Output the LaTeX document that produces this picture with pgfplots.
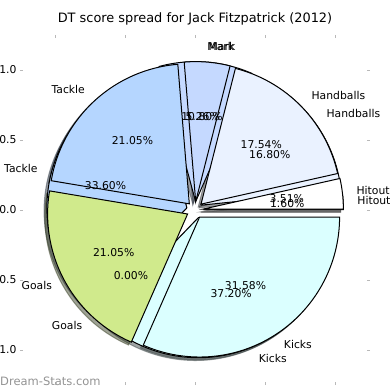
\documentclass[border=0pt]{standalone}
\usepackage{fontspec}
\setmainfont{DejaVu Sans}
\usepackage{pgfplots}
\pgfplotsset{compat=1.18}

\definecolor{cMark}{RGB}{197,217,255}
\definecolor{cHand}{RGB}{234,242,255}
\definecolor{cHit}{RGB}{255,255,255}
\definecolor{cKick}{RGB}{219,255,255}
\definecolor{cGoal}{RGB}{208,234,140}
\definecolor{cTack}{RGB}{181,214,255}

\tikzset{
  lab/.style={font=\fontsize{10.8}{13}\selectfont, inner sep=0pt, text height=0.76em, text depth=0.24em},
  wedgestyle/.style={draw=black, line width=1pt, line join=miter},
  shadowstyle/.style={draw=#1, line width=1pt, opacity=0.5},
}

\newcommand\explode{0.06}
\gdef\cum{0}
\newcommand\cumreset{\gdef\cum{0}}
\newcommand\sliceangles[1]{%
  \pgfmathsetmacro\sa{3.6*\cum}%
  \pgfmathsetmacro\sb{3.6*(\cum+#1)}%
  \pgfmathsetmacro\sm{(\sa+\sb)/2}%
  \pgfmathsetmacro\cx{\explode*cos(\sm)}%
  \pgfmathsetmacro\cy{\explode*sin(\sm)}%
  \pgfmathsetmacro\newcum{\cum+#1}%
  \xdef\cum{\newcum}}
% #1 value (percent), #2 fill colour, #3 style, #4 offset (shadow)
\newcommand\slice[4]{%
  \sliceangles{#1}%
  \pgfmathsetmacro\ox{\cx+#4}\pgfmathsetmacro\oy{\cy+#4}%
  \ifdim #1pt>0pt
    \edef\temp{\noexpand\addplot[#3, fill=#2, domain=\sa:\sb, samples=72]
      ({\ox+cos(x)},{\oy+sin(x)}) -- (axis cs:\ox,\oy) -- cycle;}%
  \else \let\temp\relax \fi
  \temp}
% #1 value, #2 name, #3 percent text
\newcommand\pielabel[3]{%
  \sliceangles{#1}%
  \pgfmathsetmacro\lx{(\explode+1.1)*cos(\sm)}%
  \pgfmathsetmacro\ly{(\explode+1.1)*sin(\sm)}%
  \pgfmathsetmacro\qx{(\explode+0.6)*cos(\sm)}%
  \pgfmathsetmacro\qy{(\explode+0.6)*sin(\sm)}%
  \ifdim \lx pt>0pt \def\anc{west}\else\def\anc{east}\fi
  \edef\temp{\noexpand\node[lab, anchor=\anc] at (axis cs:\lx,\ly) {#2};
    \noexpand\node[lab, anchor=center] at (axis cs:\qx,\qy) {#3};}%
  \temp}

\begin{document}
\begin{tikzpicture}
\begin{axis}[
  scale only axis, width=350pt, height=350pt,
  xmin=-1.25, xmax=1.25, ymin=-1.25, ymax=1.25,
  clip=false,
  axis line style={draw=none},
  xtick={-1,-0.5,0,0.5,1}, ytick={-1,-0.5,0,0.5,1},
  tick align=inside, major tick length=3pt,
  tick style={color=gray!55, line width=0.8pt},
  /pgf/number format/assume math mode=true,
  /pgf/number format/fixed, /pgf/number format/fixed zerofill,
  /pgf/number format/precision=1,
  ticklabel style={font=\fontsize{10.8}{13}\selectfont},
  xticklabel style={yshift=-2.5pt},
  title={DT score spread for Jack Fitzpatrick (2012)},
  title style={font=\fontsize{12.9}{15}\selectfont, at={(0.5,1)}, anchor=base, yshift=6pt, inner sep=0pt},
]
% ---- shadows, second series (B)
\cumreset
\slice{1.60}{cHit!30!black}{shadowstyle=cHit!30!black}{-0.02}
\slice{16.80}{cHand!30!black}{shadowstyle=cHand!30!black}{-0.02}
\slice{10.80}{cMark!30!black}{shadowstyle=cMark!30!black}{-0.02}
\slice{33.60}{cTack!30!black}{shadowstyle=cTack!30!black}{-0.02}
\slice{0.00}{cGoal!30!black}{shadowstyle=cGoal!30!black}{-0.02}
\slice{37.20}{cKick!30!black}{shadowstyle=cKick!30!black}{-0.02}
% ---- shadows, first series (A)
\cumreset
\slice{3.51}{cHit!30!black}{shadowstyle=cHit!30!black}{-0.02}
\slice{17.54}{cHand!30!black}{shadowstyle=cHand!30!black}{-0.02}
\slice{5.26}{cMark!30!black}{shadowstyle=cMark!30!black}{-0.02}
\slice{21.05}{cTack!30!black}{shadowstyle=cTack!30!black}{-0.02}
\slice{21.05}{cGoal!30!black}{shadowstyle=cGoal!30!black}{-0.02}
\slice{31.58}{cKick!30!black}{shadowstyle=cKick!30!black}{-0.02}
% ---- wedges B
\cumreset
\slice{1.60}{cHit}{wedgestyle}{0}
\slice{16.80}{cHand}{wedgestyle}{0}
\slice{10.80}{cMark}{wedgestyle}{0}
\slice{33.60}{cTack}{wedgestyle}{0}
\slice{0.00}{cGoal}{wedgestyle}{0}
\slice{37.20}{cKick}{wedgestyle}{0}
% ---- wedges A
\cumreset
\slice{3.51}{cHit}{wedgestyle}{0}
\slice{17.54}{cHand}{wedgestyle}{0}
\slice{5.26}{cMark}{wedgestyle}{0}
\slice{21.05}{cTack}{wedgestyle}{0}
\slice{21.05}{cGoal}{wedgestyle}{0}
\slice{31.58}{cKick}{wedgestyle}{0}
% ---- labels
\cumreset
\pielabel{1.60}{Hitout}{1.60\%}
\pielabel{16.80}{Handballs}{16.80\%}
\pielabel{10.80}{Mark}{10.80\%}
\pielabel{33.60}{Tackle}{33.60\%}
\pielabel{0.00}{Goals}{0.00\%}
\pielabel{37.20}{Kicks}{37.20\%}
\cumreset
\pielabel{3.51}{Hitout}{3.51\%}
\pielabel{17.54}{Handballs}{17.54\%}
\pielabel{5.26}{Mark}{5.26\%}
\pielabel{21.05}{Tackle}{21.05\%}
\pielabel{21.05}{Goals}{21.05\%}
\pielabel{31.58}{Kicks}{31.58\%}
\end{axis}
\node[anchor=west, inner sep=0pt, text=gray!85, font=\fontsize{11.5}{13}\selectfont] at (-20pt,4pt) {Dream-Stats.com};
\pgfresetboundingbox
\path[use as bounding box] (-20pt,-5pt) rectangle (370pt,385pt);
\end{tikzpicture}
\end{document}
